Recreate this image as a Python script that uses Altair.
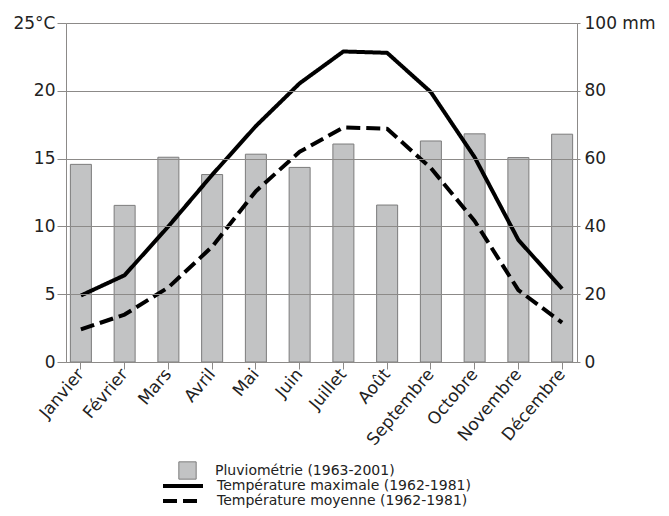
import altair as alt
import pandas as pd

mois = ["Janvier", "Février", "Mars", "Avril", "Mai", "Juin", "Juillet",
        "Août", "Septembre", "Octobre", "Novembre", "Décembre"]
pluie = [58.3, 46.2, 60.4, 55.3, 61.3, 57.4, 64.3, 46.3, 65.2, 67.3, 60.3, 67.2]
tmax = [4.9, 6.4, 10.0, 13.8, 17.4, 20.55, 22.9, 22.8, 19.9, 15.1, 9.0, 5.4]
tmoy = [2.4, 3.5, 5.5, 8.5, 12.6, 15.5, 17.3, 17.2, 14.3, 10.4, 5.3, 2.9]

lab_pluie = "Pluviométrie (1963-2001)"
lab_max = "Température maximale (1962-1981)"
lab_moy = "Température moyenne (1962-1981)"

df_bar = pd.DataFrame({"mois": mois, "pluie": pluie, "serie": lab_pluie})
df_line = pd.DataFrame({
    "mois": mois + mois,
    "temp": tmax + tmoy,
    "serie": [lab_max] * 12 + [lab_moy] * 12,
})

FONT = "DejaVu Sans"
GRID = "#8c8a88"
TXT = "#222222"

xenc = alt.X(
    "mois:N", sort=mois, title=None,
    scale=alt.Scale(paddingInner=0.52, paddingOuter=0.1),
    axis=alt.Axis(labelAngle=-50, labelAlign="right", labelBaseline="middle",
                  labelFontSize=17, labelColor=TXT, labelFont=FONT,
                  tickSize=7, tickColor=GRID, domainColor=GRID, labelPadding=2),
)

bars = alt.Chart(df_bar).mark_bar(stroke="#7c7c7c", strokeWidth=1).encode(
    x=xenc,
    y=alt.Y("pluie:Q", title=None,
            scale=alt.Scale(domain=[0, 100], nice=False),
            axis=alt.Axis(orient="right", values=[0, 20, 40, 60, 80, 100],
                          labelExpr="datum.value == 100 ? '100 mm' : datum.label",
                          grid=False, tickSize=3, labelPadding=4,
                          tickColor=GRID, domainColor=GRID,
                          labelFontSize=17, labelColor=TXT, labelFont=FONT)),
    fill=alt.Fill("serie:N", scale=alt.Scale(range=["#c2c3c4"]),
                  legend=alt.Legend(title=None, orient="none", legendX=112, legendY=438,
                                    symbolType="square", symbolSize=300,
                                    symbolStrokeColor="#7c7c7c", symbolStrokeWidth=1,
                                    symbolFillColor="#c2c3c4",
                                    labelFontSize=14, labelColor=TXT, labelFont=FONT,
                                    labelOffset=18, labelLimit=400)),
)

lines = alt.Chart(df_line).mark_line(color="black", strokeWidth=4, strokeJoin="round").encode(
    x=alt.X("mois:N", sort=mois),
    y=alt.Y("temp:Q", title=None,
            scale=alt.Scale(domain=[0, 25], nice=False),
            axis=alt.Axis(orient="left", values=[0, 5, 10, 15, 20, 25],
                          labelExpr="datum.value == 25 ? '25°C' : datum.label",
                          grid=True, gridColor=GRID, gridWidth=1,
                          tickSize=9, labelPadding=2, zindex=1,
                          tickColor=GRID, domainColor=GRID,
                          labelFontSize=17, labelColor=TXT, labelFont=FONT)),
    strokeDash=alt.StrokeDash("serie:N",
                              scale=alt.Scale(domain=[lab_max, lab_moy],
                                              range=[[1, 0], [14, 6]]),
                              legend=alt.Legend(title=None, orient="none",
                                                legendX=110, legendY=456,
                                                symbolType="M-4,0H4", symbolSize=100,
                                                symbolStrokeColor="black",
                                                symbolStrokeWidth=4,
                                                labelFontSize=14, labelColor=TXT,
                                                labelFont=FONT, labelOffset=27,
                                                labelLimit=400, labelBaseline="middle",
                                                rowPadding=-1)),
    detail="serie:N",
)

chart = alt.layer(bars, lines).resolve_scale(
    y="independent", fill="independent", strokeDash="independent"
).properties(
    width=511, height=339,
    autosize=alt.AutoSizeParams(type="none"),
    padding={"left": 58, "top": 15, "right": 84, "bottom": 146},
).configure_view(stroke=None).configure(background="white")

chart.save("out.html", embed_options={"renderer": "svg", "actions": False})
